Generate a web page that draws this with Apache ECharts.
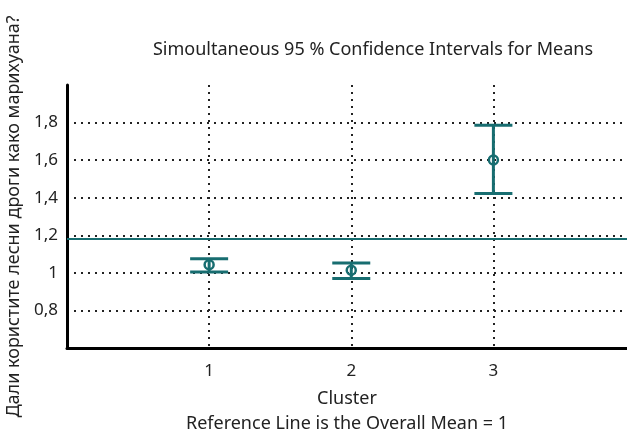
<!DOCTYPE html>
<html>
<head>
<meta charset="utf-8">
<script src="https://cdn.jsdelivr.net/npm/echarts@6/dist/echarts.min.js"></script>
<style>
  html, body { margin: 0; padding: 0; background: #fff; }
  #chart { width: 627px; height: 434px; }
</style>
</head>
<body>
<div id="chart"></div>
<script>
var myChart = echarts.init(document.getElementById('chart'));

// clusters, CI bounds and means
var clusters = [1, 2, 3];
var ciLow = [1.005, 0.970, 1.423];
var ciHigh = [1.075, 1.052, 1.786];
var means = [1.043, 1.014, 1.601];
var referenceLine = 1.176;

var teal = '#176d70';
var font = 'Noto Sans';

var barData = clusters.map(function (c, i) {
    return [c, ciLow[i], ciHigh[i], means[i]];
});

option = {
    backgroundColor: '#fff',
    animation: false,
    title: {
        text: 'Simoultaneous 95 % Confidence Intervals for Means',
        left: 368,
        textAlign: 'center',
        top: 36,
        textStyle: {
            fontFamily: font,
            fontWeight: 'normal',
            fontSize: 18,
            color: '#222'
        }
    },
    grid: {
        left: 67,
        right: 0,
        top: 85,
        bottom: 86,
        outerBoundsMode: 'none'
    },
    xAxis: {
        type: 'value',
        min: 0,
        max: 3.94,
        interval: 1,
        name: 'Cluster\nReference Line is the Overall Mean = 1',
        nameLocation: 'middle',
        nameGap: 38,
        nameTextStyle: {
            fontFamily: font,
            fontSize: 18,
            color: '#222',
            lineHeight: 25,
            verticalAlign: 'top'
        },
        axisLine: { lineStyle: { color: '#000', width: 3 } },
        axisTick: { show: false },
        axisLabel: {
            showMinLabel: false,
            showMaxLabel: false,
            margin: 15,
            fontFamily: font,
            fontSize: 17,
            color: '#222'
        },
        splitLine: {
            show: true,
            showMinLine: false,
            showMaxLine: false,
            lineStyle: { color: '#222', type: [2, 5], width: 2 }
        }
    },
    yAxis: {
        type: 'value',
        min: 0.6,
        max: 2.0,
        interval: 0.2,
        name: 'Дали користите лесни дроги како марихуана?',
        nameLocation: 'middle',
        nameRotate: 90,
        nameGap: 37,
        nameTextStyle: {
            fontFamily: font,
            fontSize: 18,
            color: '#222'
        },
        axisLine: { show: true, lineStyle: { color: '#000', width: 3 } },
        axisTick: { show: false },
        axisLabel: {
            showMinLabel: false,
            showMaxLabel: false,
            margin: 9,
            fontFamily: font,
            fontSize: 17,
            color: '#222',
            formatter: function (v) {
                return String(Math.round(v * 10) / 10).replace('.', ',');
            }
        },
        splitLine: {
            show: true,
            showMinLine: false,
            showMaxLine: false,
            lineStyle: { color: '#222', type: [2, 5], width: 2 }
        }
    },
    series: [
        {
            type: 'custom',
            data: barData,
            renderItem: function (params, api) {
                var x = api.value(0);
                var lo = api.coord([x, api.value(1)]);
                var hi = api.coord([x, api.value(2)]);
                var mid = api.coord([x, api.value(3)]);
                var half = 19;
                var st = { stroke: teal, lineWidth: 3 };
                return {
                    type: 'group',
                    children: [
                        { type: 'line', shape: { x1: hi[0], y1: hi[1], x2: lo[0], y2: lo[1] }, style: st },
                        { type: 'line', shape: { x1: hi[0] - half, y1: hi[1], x2: hi[0] + half, y2: hi[1] }, style: st },
                        { type: 'line', shape: { x1: lo[0] - half, y1: lo[1], x2: lo[0] + half, y2: lo[1] }, style: st },
                        { type: 'circle', shape: { cx: mid[0], cy: mid[1], r: 4.5 }, style: { stroke: teal, lineWidth: 2.5, fill: 'none' } }
                    ]
                };
            },
            markLine: {
                silent: true,
                symbol: 'none',
                label: { show: false },
                lineStyle: { color: teal, width: 2, type: 'solid' },
                data: [{ yAxis: referenceLine }]
            }
        }
    ]
};

myChart.setOption(option);
</script>
</body>
</html>
